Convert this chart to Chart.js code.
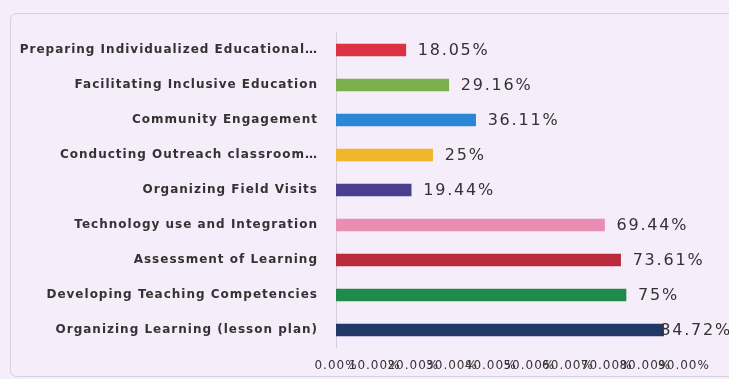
<!DOCTYPE html>
<html>
<head>
<meta charset="utf-8">
<script src="https://cdn.jsdelivr.net/npm/chart.js@4"></script>
<style>
  html, body { margin: 0; padding: 0; background: #f5edf9; }
  canvas { display: block; }
</style>
</head>
<body>
<canvas id="competencyChart" width="729" height="379"></canvas>
<script>
const categories = [
  'Preparing Individualized Educational\u2026',
  'Facilitating Inclusive Education',
  'Community Engagement',
  'Conducting Outreach classroom\u2026',
  'Organizing Field Visits',
  'Technology use and Integration',
  'Assessment of Learning',
  'Developing Teaching Competencies',
  'Organizing Learning (lesson plan)'
];
const percentages = [18.05, 29.16, 36.11, 25, 19.44, 69.44, 73.61, 75, 84.72];
const barColors = [
  '#dc3142', '#7bb04c', '#2b86d4', '#f0b62c', '#4a3f8e',
  '#e98db2', '#bb2a3a', '#1e8a4c', '#1f3868'
];
const xTickValues = [0, 10, 20, 30, 40, 50, 60, 70, 80, 90];

// background and the rounded frame behind the plot
const frame = {
  id: 'frame',
  beforeDraw(chart) {
    const ctx = chart.ctx;
    ctx.save();
    ctx.fillStyle = '#f5edf9';
    ctx.fillRect(0, 0, chart.width, chart.height);
    ctx.strokeStyle = '#d8cfdd';
    ctx.lineWidth = 1;
    ctx.beginPath();
    ctx.roundRect(10.5, 13.5, chart.width + 20, chart.height - 16, 6);
    ctx.stroke();
    ctx.restore();
    // wide-set text for the axis labels
    ctx.letterSpacing = '1px';
  }
};

// value labels to the right of each bar, pulled back in if they run off the edge
const valueLabels = {
  id: 'valueLabels',
  afterDatasetsDraw(chart) {
    const ctx = chart.ctx;
    const meta = chart.getDatasetMeta(0);
    ctx.save();
    ctx.font = '16px "DejaVu Sans", sans-serif';
    ctx.letterSpacing = '1.8px';
    ctx.fillStyle = '#333';
    ctx.textBaseline = 'middle';
    meta.data.forEach((bar, i) => {
      const text = percentages[i] + '%';
      const w = ctx.measureText(text).width;
      const x = Math.min(bar.x + 12, chart.width - w + 3);
      ctx.fillText(text, x, bar.y + 1);
    });
    ctx.restore();
  }
};

new Chart(document.getElementById('competencyChart'), {
  type: 'bar',
  data: {
    labels: categories,
    datasets: [{
      data: percentages,
      backgroundColor: barColors,
      barThickness: 12
    }]
  },
  options: {
    indexAxis: 'y',
    responsive: false,
    animation: false,
    layout: { padding: { top: 32.5, right: 45, bottom: 0.5, left: 0 } },
    plugins: {
      legend: { display: false },
      tooltip: { enabled: false }
    },
    scales: {
      x: {
        min: 0,
        max: 90,
        afterBuildTicks(scale) {
          scale.ticks = xTickValues.map(v => ({ value: v }));
        },
        grid: { display: false },
        border: { display: false },
        ticks: {
          autoSkip: false,
          maxRotation: 0,
          padding: 3,
          color: '#333',
          font: { size: 12, family: '"DejaVu Sans", sans-serif' },
          callback: v => v.toFixed(2) + '%'
        },
        afterFit(scale) { scale.height = 31; }
      },
      y: {
        grid: { display: false },
        border: { display: true, color: '#d6ceda', width: 1 },
        ticks: {
          autoSkip: false,
          padding: 10,
          color: '#333',
          font: { size: 12, weight: 'bold', family: '"DejaVu Sans", sans-serif' }
        },
        afterFit(scale) { scale.width = 336; }
      }
    }
  },
  plugins: [frame, valueLabels]
});
</script>
</body>
</html>
